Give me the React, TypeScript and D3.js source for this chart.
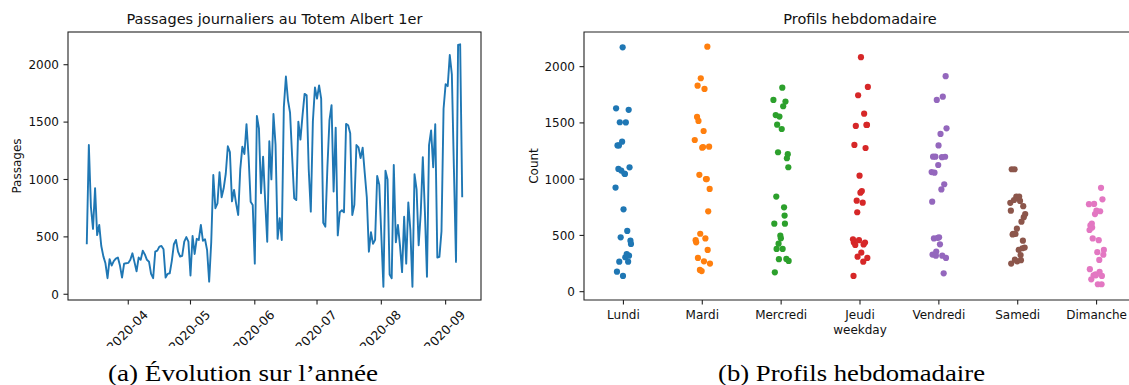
import React, { useEffect, useRef } from 'react';
import * as d3 from 'd3';

// daily counts from 2020-03-12, one value per day
const startDate = '2020-03-12';
const passages = [
  436, 1300, 760, 570, 925, 515, 604, 420, 330, 270,
  140, 306, 250, 289, 311, 320, 250, 145, 267, 270,
  273, 300, 357, 280, 200, 320, 300, 380, 347, 300,
  284, 177, 140, 371, 380, 415, 421, 392, 145, 178,
  183, 291, 436, 473, 371, 328, 335, 458, 498, 458,
  163, 508, 351, 483, 473, 604, 466, 479, 386, 110,
  453, 1039, 750, 791, 1063, 845, 923, 1050, 1289, 1239,
  809, 909, 790, 690, 1091, 1286, 1222, 1482, 1200, 807,
  778, 267, 1553, 1446, 880, 1199, 815, 458, 1333, 1001,
  1570, 1304, 483, 662, 473, 1630, 1897, 1690, 1582, 1200,
  836, 821, 1504, 1348, 1556, 1746, 1733, 1088, 720, 1506,
  1802, 1704, 1820, 1704, 622, 589, 1105, 1518, 1648, 895,
  1452, 513, 715, 732, 714, 1484, 1473, 1402, 690, 780,
  1300, 1280, 1186, 1277, 1058, 845, 371, 540, 439, 474,
  1031, 955, 513, 66, 1076, 1001, 172, 140, 1126, 453,
  604, 424, 193, 676, 267, 800, 560, 66, 1046, 913,
  427, 706, 1195, 720, 153, 1300, 1428, 1106, 1482, 320,
  326, 548, 1616, 1831, 1813, 2084, 1915, 1088, 282, 2172,
  2178, 845,
];
const monthTicks = ['2020-04', '2020-05', '2020-06', '2020-07', '2020-08', '2020-09'];
const weekdays = ['Lundi', 'Mardi', 'Mercredi', 'Jeudi', 'Vendredi', 'Samedi', 'Dimanche'];
const countTicks = [0, 500, 1000, 1500, 2000];
const palette = ['#1f77b4', '#ff7f0e', '#2ca02c', '#d62728', '#9467bd', '#8c564b', '#e377c2'];

const W = 1129, H = 385;
const FONT = 'DejaVu Sans, sans-serif';
const INK = '#111';

const App = () => {
  const svgRef = useRef<SVGSVGElement>(null);

  useEffect(() => {
    document.body.style.margin = '0';
    const svg = d3.select(svgRef.current);
    svg.selectAll('*').remove();

    const t0 = d3.utcParse('%Y-%m-%d')(startDate) as Date;
    const rows = passages.map((v, i) => {
      const date = d3.utcDay.offset(t0, i);
      return { date, value: v, wd: (date.getUTCDay() + 6) % 7 };
    });

    // ---------- left: time series ----------
    const L = { x0: 68, x1: 481, y0: 32, y1: 300 };
    const [d0, d1] = d3.extent(rows, d => d.date) as [Date, Date];
    const pad = (+d1 - +d0) * 0.05;
    const x = d3.scaleUtc().domain([new Date(+d0 - pad), new Date(+d1 + pad)]).range([L.x0, L.x1]);
    const y = d3.scaleLinear().domain([-50, 2285]).range([L.y1, L.y0]);

    svg.append('clipPath').attr('id', 'leftclip')
      .append('rect').attr('x', 0).attr('y', 0).attr('width', 560).attr('height', 346);
    const gl = svg.append('g').attr('clip-path', 'url(#leftclip)');

    const line = d3.line<{ date: Date; value: number }>().x(d => x(d.date)).y(d => y(d.value));
    gl.append('path').datum(rows).attr('d', line)
      .attr('fill', 'none').attr('stroke', '#1f77b4').attr('stroke-width', 1.9)
      .attr('stroke-linejoin', 'round');

    gl.append('rect').attr('x', L.x0).attr('y', L.y0)
      .attr('width', L.x1 - L.x0).attr('height', L.y1 - L.y0)
      .attr('fill', 'none').attr('stroke', '#222').attr('stroke-width', 1.1);

    countTicks.forEach(t => {
      gl.append('line').attr('x1', L.x0 - 4.5).attr('x2', L.x0).attr('y1', y(t)).attr('y2', y(t))
        .attr('stroke', '#222').attr('stroke-width', 1.1);
      gl.append('text').attr('x', L.x0 - 9).attr('y', y(t) + 4.4)
        .attr('text-anchor', 'end').attr('font-family', FONT).attr('font-size', 12).attr('fill', INK)
        .text(t);
    });

    const parseMonth = d3.utcParse('%Y-%m');
    monthTicks.forEach(m => {
      const px = x(parseMonth(m) as Date);
      gl.append('line').attr('x1', px).attr('x2', px).attr('y1', L.y1).attr('y2', L.y1 + 4.5)
        .attr('stroke', '#222').attr('stroke-width', 1.1);
      gl.append('text').attr('transform', `translate(${px - 1},331) rotate(-45)`)
        .attr('text-anchor', 'middle').attr('dy', '0.35em')
        .attr('font-family', FONT).attr('font-size', 12.5).attr('fill', INK)
        .text(m);
    });

    gl.append('text').attr('x', (L.x0 + L.x1) / 2).attr('y', 24)
      .attr('text-anchor', 'middle').attr('font-family', FONT).attr('font-size', 14.5).attr('fill', INK)
      .text('Passages journaliers au Totem Albert 1er');
    gl.append('text').attr('transform', `translate(21,${(L.y0 + L.y1) / 2}) rotate(-90)`)
      .attr('text-anchor', 'middle').attr('font-family', FONT).attr('font-size', 12).attr('fill', INK)
      .text('Passages');

    // ---------- right: weekday strip plot ----------
    const R = { x0: 584, x1: 1136, y0: 32, y1: 300 };
    const xs = d3.scalePoint<string>().domain(weekdays).range([R.x0, R.x1]).padding(0.5);
    const ys = d3.scaleLinear().domain([-74, 2308]).range([R.y1, R.y0]);
    const step = xs.step();

    const seen = new Array(7).fill(0);
    const gr = svg.append('g');
    rows.forEach(d => {
      const k = seen[d.wd]++;
      const off = (((k * 0.618034 + d.wd * 0.37) % 1) - 0.5) * 0.2 * step;
      gr.append('circle')
        .attr('cx', (xs(weekdays[d.wd]) as number) + off)
        .attr('cy', ys(d.value))
        .attr('r', 3.1)
        .attr('fill', palette[d.wd]);
    });

    gr.append('path')
      .attr('d', `M${R.x1},${R.y0}H${R.x0}V${R.y1}H${R.x1}V${R.y0}`)
      .attr('fill', 'none').attr('stroke', '#222').attr('stroke-width', 1.1);

    countTicks.forEach(t => {
      gr.append('line').attr('x1', R.x0 - 4.5).attr('x2', R.x0).attr('y1', ys(t)).attr('y2', ys(t))
        .attr('stroke', '#222').attr('stroke-width', 1.1);
      gr.append('text').attr('x', R.x0 - 9).attr('y', ys(t) + 4.4)
        .attr('text-anchor', 'end').attr('font-family', FONT).attr('font-size', 12).attr('fill', INK)
        .text(t);
    });

    weekdays.forEach(w => {
      const px = xs(w) as number;
      gr.append('line').attr('x1', px).attr('x2', px).attr('y1', R.y1).attr('y2', R.y1 + 4.5)
        .attr('stroke', '#222').attr('stroke-width', 1.1);
      gr.append('text').attr('x', px).attr('y', 318.5)
        .attr('text-anchor', 'middle').attr('font-family', FONT).attr('font-size', 12).attr('fill', INK)
        .text(w);
    });

    gr.append('text').attr('x', (R.x0 + R.x1) / 2).attr('y', 24)
      .attr('text-anchor', 'middle').attr('font-family', FONT).attr('font-size', 14.5).attr('fill', INK)
      .text('Profils hebdomadaire');
    gr.append('text').attr('x', (R.x0 + R.x1) / 2).attr('y', 334)
      .attr('text-anchor', 'middle').attr('font-family', FONT).attr('font-size', 12).attr('fill', INK)
      .text('weekday');
    gr.append('text').attr('transform', `translate(537.5,${(R.y0 + R.y1) / 2}) rotate(-90)`)
      .attr('text-anchor', 'middle').attr('font-family', FONT).attr('font-size', 12).attr('fill', INK)
      .text('Count');

    // ---------- captions ----------
    const captions = [
      { text: '(a) Évolution sur l\u2019année', x: 108, len: 270 },
      { text: '(b) Profils hebdomadaire', x: 718, len: 267 },
    ];
    captions.forEach(c => {
      svg.append('text').attr('x', c.x).attr('y', 381)
        .attr('font-family', 'Liberation Serif, serif').attr('font-size', 24).attr('fill', '#000')
        .attr('textLength', c.len).attr('lengthAdjust', 'spacingAndGlyphs')
        .text(c.text);
    });
  }, []);

  return (
    <svg ref={svgRef} width={W} height={H}
      style={{ position: 'absolute', left: 0, top: 0, background: '#fff' }} />
  );
};

export default App;
